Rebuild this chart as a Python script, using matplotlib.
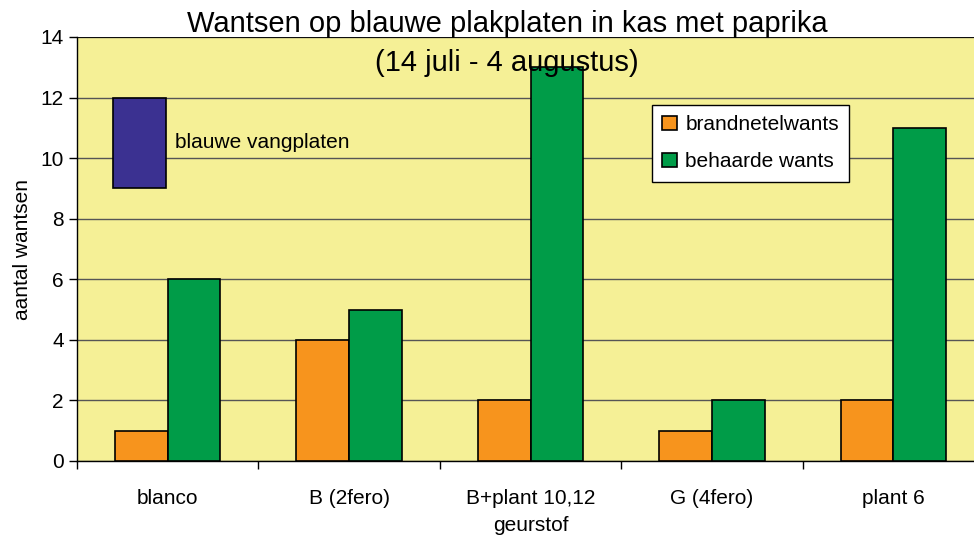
import numpy as np
import matplotlib
matplotlib.use("Agg")
import matplotlib.pyplot as plt

plt.rcParams['font.family'] = ['Liberation Sans', 'DejaVu Sans']

# data
categories = ['blanco', 'B (2fero)', 'B+plant 10,12', 'G (4fero)', 'plant 6']
brandnetelwants = [1, 4, 2, 1, 2]
behaarde_wants = [6, 5, 13, 2, 11]
blauwe_plaat = [9, 12]  # onder- en bovenkant van het blauwe vlak

fig = plt.figure(figsize=(9.74, 5.40), dpi=100)
ax = fig.add_axes([77 / 974, 1 - 461 / 540, 907 / 974, 424 / 540])
ax.set_facecolor('#F5F096')

x = np.arange(len(categories))
w = 0.29
ax.bar(x - w / 2, brandnetelwants, w, color='#F7941D', edgecolor='black', linewidth=1.2,
       label='brandnetelwants', zorder=3)
ax.bar(x + w / 2, behaarde_wants, w, color='#009C48', edgecolor='black', linewidth=1.2,
       label='behaarde wants', zorder=3)

# blauwe vangplaat-indicator
ax.bar(x[0] - w / 2 - 0.01, blauwe_plaat[1] - blauwe_plaat[0], w, bottom=blauwe_plaat[0],
       color='#3B3191', edgecolor='black', linewidth=1.2, zorder=3)
ax.text(x[0] + 0.04, 10.5, 'blauwe vangplaten', fontsize=15, va='center', ha='left', zorder=4)

ax.set_xlim(-0.5, len(categories) - 0.5)
ax.set_ylim(0, 14)
ax.set_yticks(range(0, 15, 2))
ax.yaxis.grid(True, color='#555555', linewidth=1, zorder=0)
ax.set_xticks(x)
ax.set_xticklabels(categories, fontsize=15)
ax.set_xticks(np.arange(-0.5, len(categories), 1), minor=True)
ax.tick_params(axis='x', which='major', length=0, pad=20)
ax.tick_params(axis='x', which='minor', length=6, width=1)
ax.tick_params(axis='y', labelsize=15, length=6, width=1, direction='out')

for s in ['left', 'bottom']:
    ax.spines[s].set_linewidth(1)
ax.spines['right'].set_visible(False)
ax.spines['top'].set_visible(False)
ax.axhline(14, color='black', linewidth=1.2, zorder=2)

ax.set_ylabel('aantal wantsen', fontsize=15, labelpad=6)
ax.set_xlabel('geurstof', fontsize=15, labelpad=6)

fig.text(507 / 974, 1 - 24 / 540, 'Wantsen op blauwe plakplaten in kas met paprika',
         ha='center', va='center', fontsize=21)
fig.text(507 / 974, 1 - 63 / 540, '(14 juli - 4 augustus)',
         ha='center', va='center', fontsize=21)

leg = ax.legend(loc='upper left', bbox_to_anchor=(575 / 907, 1 - 68 / 424), fontsize=15,
                frameon=True, fancybox=False, edgecolor='black', framealpha=1,
                handlelength=0.7, handleheight=0.7, handletextpad=0.4, borderpad=0.5,
                labelspacing=0.85, borderaxespad=0)
leg.get_frame().set_linewidth(1)

fig.savefig('out.png', dpi=100)
